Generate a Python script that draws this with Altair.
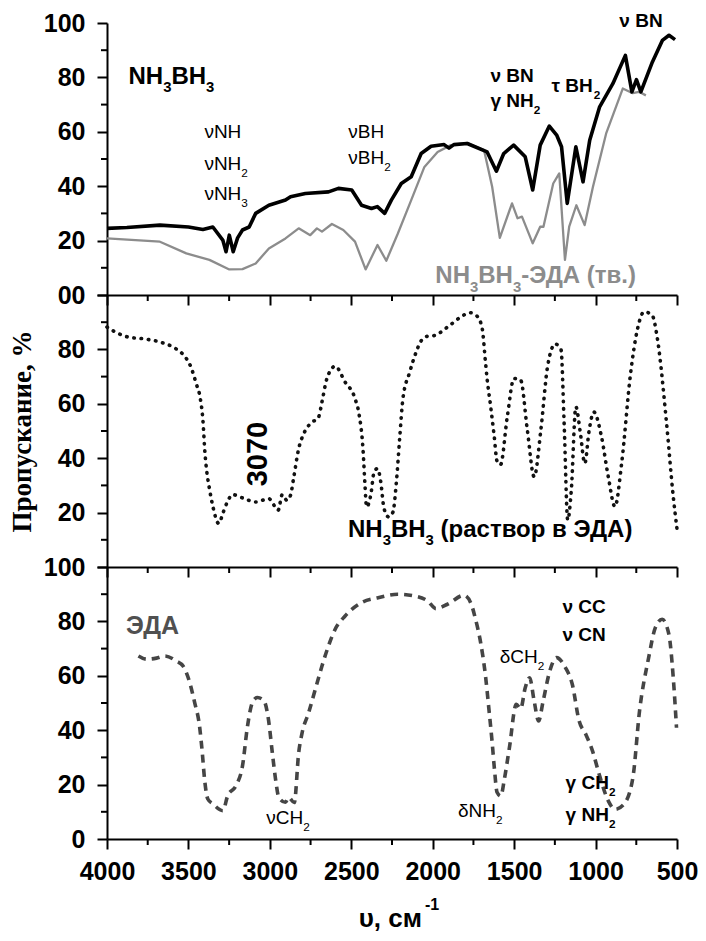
import altair as alt
import pandas as pd

# ---------------- data ----------------
top_black_cm = [4000, 3878, 3675, 3500, 3411, 3350, 3289, 3269, 3249, 3225, 3198, 3168, 3127, 3087,
                3006, 2904, 2873, 2782, 2640, 2579, 2497, 2437, 2376, 2340, 2295, 2254, 2193, 2132,
                2071, 2010, 1930, 1900, 1870, 1788, 1666, 1609, 1564, 1503, 1432, 1386, 1340, 1284,
                1239, 1209, 1174, 1121, 1077, 1036, 975, 894, 817, 777, 749, 722, 651, 590, 549, 512]
top_black_t = [24.5, 24.8, 25.7, 25.0, 24.1, 25.0, 20.2, 15.9, 22.0, 15.9, 21.0, 23.9, 25.0, 30.0,
               33.0, 34.9, 36.1, 37.3, 37.9, 39.2, 38.6, 33.0, 31.8, 32.5, 30.0, 34.9, 41.0, 43.5,
               52.0, 54.7, 55.3, 54.0, 55.3, 55.7, 52.6, 45.5, 52.0, 55.1, 50.8, 38.6, 55.1, 62.1,
               58.8, 54.5, 33.7, 54.5, 41.6, 56.9, 69.2, 77.7, 88.1, 74.7, 79.2, 74.7, 85.7, 93.6, 95.5, 93.9]

top_gray_cm = [4000, 3675, 3513, 3371, 3249, 3168, 3087, 3006, 2904, 2823, 2752, 2711, 2680, 2619,
               2549, 2477, 2412, 2339, 2285, 2214, 2132, 2051, 1970, 1889, 1788, 1685, 1635, 1588,
               1513, 1479, 1452, 1386, 1340, 1320, 1260, 1223, 1188, 1162, 1118, 1067, 1016, 935,
               833, 772, 734, 691]
top_gray_t = [20.8, 19.6, 15.3, 12.9, 9.4, 9.5, 11.6, 17.1, 20.8, 24.5, 22.0, 24.5, 23.3, 26.1,
              23.9, 19.6, 9.4, 18.4, 12.6, 22.6, 34.9, 47.1, 52.6, 55.1, 55.9, 53.3, 39.8, 21.0,
              33.7, 28.2, 28.8, 19.0, 25.1, 25.1, 41.0, 44.7, 12.9, 25.1, 33.0, 25.7, 39.8, 59.4,
              75.9, 74.2, 74.7, 73.4]

mid_cm = [4000, 3959, 3868, 3776, 3675, 3584, 3537, 3482, 3452, 3427, 3411, 3399, 3387, 3371,
          3347, 3314, 3286, 3259, 3229, 3168, 3087, 3006, 2949, 2924, 2895, 2873, 2853, 2823,
          2792, 2752, 2701, 2680, 2650, 2599, 2538, 2477, 2453, 2427, 2417, 2406, 2380, 2360,
          2339, 2319, 2299, 2270, 2244, 2223, 2203, 2183, 2142, 2102, 2081, 2041, 1990, 1909,
          1828, 1771, 1727, 1696, 1676, 1666, 1645, 1623, 1605, 1584, 1542, 1501, 1460, 1419,
          1377, 1336, 1295, 1248, 1212, 1193, 1171, 1149, 1121, 1095, 1066, 1040, 1011, 964,
          922, 881, 840, 785, 744, 702, 653, 619, 564, 523, 500]
mid_t = [88.2, 86.7, 84.5, 83.9, 82.7, 80.5, 78.4, 73.1, 67.4, 61.9, 53.9, 42.3, 34.9, 28.8,
         21.5, 16.0, 20.2, 24.2, 26.6, 25.4, 23.9, 25.1, 20.9, 26.6, 24.5, 26.4, 33.1, 43.5,
         49.0, 52.7, 55.1, 60.7, 69.2, 73.8, 68.0, 61.9, 56.4, 42.3, 31.3, 22.1, 26.6, 34.9,
         36.2, 31.3, 21.5, 18.4, 20.2, 31.3, 47.2, 61.9, 71.5, 79.0, 82.1, 84.7, 85.1, 88.2,
         91.9, 93.5, 92.2, 87.6, 75.3, 69.2, 59.4, 48.4, 38.9, 37.6, 55.3, 69.3, 68.7, 50.4,
         33.2, 50.4, 73.6, 82.0, 79.8, 52.8, 17.3, 28.3, 58.9, 50.0, 38.1, 50.0, 57.0, 48.0,
         33.2, 22.2, 38.1, 71.2, 87.1, 93.8, 92.6, 83.4, 52.8, 25.9, 14.0]

bot_cm = [3807, 3756, 3696, 3645, 3574, 3533, 3492, 3462, 3432, 3415, 3401, 3381, 3350, 3289,
          3259, 3208, 3168, 3137, 3107, 3076, 3036, 3009, 2985, 2965, 2945, 2904, 2885, 2850,
          2823, 2802, 2762, 2721, 2680, 2640, 2599, 2538, 2437, 2335, 2214, 2092, 2031, 1980,
          1909, 1808, 1767, 1737, 1706, 1676, 1655, 1635, 1621, 1605, 1582, 1560, 1529, 1487,
          1460, 1432, 1405, 1377, 1350, 1322, 1281, 1240, 1185, 1143, 1101, 1060, 1019, 978,
          922, 881, 826, 771, 730, 674, 633, 591, 550, 523, 503]
bot_t = [67.3, 66.1, 66.5, 67.3, 65.4, 63.6, 57.5, 50.2, 41.6, 31.8, 22.0, 14.7, 12.9, 10.4,
         15.9, 19.6, 26.9, 41.6, 50.2, 52.0, 50.8, 44.1, 31.8, 22.0, 15.3, 13.5, 15.3, 13.4,
         31.7, 39.0, 46.4, 55.0, 63.6, 71.0, 77.1, 82.0, 86.9, 88.7, 90.0, 89.1, 87.5, 84.7,
         86.3, 89.6, 86.9, 80.8, 72.3, 60.0, 47.8, 35.5, 25.7, 17.2, 15.8, 22.0, 33.6, 49.5,
         47.9, 55.6, 59.3, 50.7, 43.4, 50.7, 61.8, 66.7, 63.0, 56.9, 43.4, 38.5, 32.4, 23.8,
         14.0, 10.9, 12.8, 22.5, 47.1, 66.7, 77.7, 80.8, 75.3, 59.3, 40.9]

x_major = [4000, 3500, 3000, 2500, 2000, 1500, 1000, 500]
x_minor = [3750, 3250, 2750, 2250, 1750, 1250, 750]
y_major = [0, 20, 40, 60, 80, 100]
y_minor = [10, 30, 50, 70, 90]

# annotations: (text, wavenumber, transmittance); "_" marks a subscript character
top_title = [("NH_3BH_3", 3868, 77.7)]
top_thin = [("νNH", 3402, 57.9), ("νNH_2", 3402, 45.9), ("νNH_3", 3402, 34.9),
            ("νBH", 2518, 57.9), ("νBH_2", 2518, 48.1)]
top_bold = [("ν BN", 1645, 78.3), ("γ NH_2", 1645, 69.2), ("τ BH_2", 1271, 74.7), ("ν BN", 854, 98.5)]
top_gray = [("NH_3BH_3-ЭДА (тв.)", 1984, 4.3)]
mid_rot = [("3070", 3071, 41.5)]
mid_title = [("NH_3BH_3 (раствор в ЭДА)", 2520, 11.1)]
bot_title = [("ЭДА", 3883, 75.3)]
bot_thin = [("νCH_2", 3022, 5.4), ("δNH_2", 1845, 8.1), ("δCH_2", 1589, 64.8)]
bot_bold = [("ν CC", 1203, 83.2), ("ν CN", 1203, 72.8), ("γ CH_2", 1184, 18.3), ("γ NH_2", 1184, 6.6)]
x_title_main = "υ, см"
x_title_sup = "-1"
y_title = "Пропускание, %"

# ---------------- chart ----------------
W, H = 570, 272
FONT = "Liberation Sans"
xscale = alt.Scale(domain=[500, 4000], reverse=True, nice=False, zero=False)
yscale = alt.Scale(domain=[0, 100], nice=False, zero=False)

# Arial / Liberation Sans advance widths (1/1000 em) for characters preceding subscripts
ADV = {
    "normal": {"N": 722, "H": 722, "B": 667, "C": 722, " ": 278, "ν": 500, "γ": 500, "δ": 556, "τ": 416},
    "bold": {"N": 722, "H": 722, "B": 722, "C": 722, " ": 278, "ν": 556, "γ": 556, "δ": 611, "τ": 500},
}


def segments(text):
    out, buf, i = [], "", 0
    while i < len(text):
        ch = text[i]
        if ch == "_":
            if buf:
                out.append((buf, False))
            out.append((text[i + 1], True))
            buf = ""
            i += 2
            continue
        buf += ch
        i += 1
    if buf:
        out.append((buf, False))
    return out


def x_axis(labels):
    return alt.Axis(values=x_major, labels=labels, tickSize=10, labelFlush=False, labelOverlap=False,
                    labelFont=FONT, labelFontSize=25, labelFontWeight="bold", labelColor="black",
                    labelPadding=10, format="d", title=None)


def y_axis(expr=None, title=None):
    kw = dict(values=y_major, tickSize=10, labelFont=FONT, labelFontSize=25, labelFontWeight="bold",
              labelColor="black", labelPadding=12, labelFlush=False)
    if expr:
        kw["labelExpr"] = expr
    if title:
        kw.update(title=title, titleFont="Liberation Serif", titleFontSize=27, titleFontWeight="bold",
                  titleColor="black", titlePadding=21)
    else:
        kw["title"] = None
    return alt.Axis(**kw)


def line_df(cm, t):
    return pd.DataFrame({"x": cm, "y": t, "i": list(range(len(cm)))})


def rich_text(items, X, Y, size, weight, color="black"):
    layers = []
    for text, x, y in items:
        off = 0.0
        for seg, sub in segments(text):
            fs = size * 0.62 if sub else size
            lead = len(seg) - len(seg.lstrip(" "))
            off += lead * ADV[weight][" "] * fs / 1000.0
            seg = seg.lstrip(" ")
            layers.append(
                alt.Chart(pd.DataFrame({"t": [seg], "x": [x], "y": [y]})).mark_text(
                    font=FONT, fontSize=fs, fontWeight=weight, color=color, align="left",
                    baseline="alphabetic", dx=off, dy=size * 0.36 if sub else 0
                ).encode(x=X, y=Y, text="t:N")
            )
            off += sum(ADV[weight].get(c, 556) for c in seg) * fs / 1000.0
    return layers


def panel(layers_fn, xax, yax):
    X = alt.X("x:Q", scale=xscale, axis=xax)
    Y = alt.Y("y:Q", scale=yscale, axis=yax)
    layers = layers_fn(X, Y)
    ymin = alt.Chart(pd.DataFrame({"y": y_minor})).mark_rule(color="black", strokeWidth=2).encode(
        y=Y, x=alt.value(-6), x2=alt.value(0))
    xmin = alt.Chart(pd.DataFrame({"x": x_minor})).mark_rule(color="black", strokeWidth=2).encode(
        x=X, y=alt.value(H), y2=alt.value(H + 6))
    return alt.layer(*layers, ymin, xmin).properties(width=W, height=H)


def top_layers(X, Y):
    gray = alt.Chart(line_df(top_gray_cm, top_gray_t)).mark_line(
        color="#8c8c8c", strokeWidth=2.3, strokeJoin="round").encode(x=X, y=Y, order="i:Q")
    black = alt.Chart(line_df(top_black_cm, top_black_t)).mark_line(
        color="black", strokeWidth=3.6, strokeJoin="round").encode(x=X, y=Y, order="i:Q")
    return ([gray, black]
            + rich_text(top_title, X, Y, 24, "bold")
            + rich_text(top_thin, X, Y, 19, "normal")
            + rich_text(top_bold, X, Y, 19, "bold")
            + rich_text(top_gray, X, Y, 24, "bold", color="#8c8c8c"))


def mid_layers(X, Y):
    dots = alt.Chart(line_df(mid_cm, mid_t)).mark_line(
        color="#111111", strokeWidth=3.6, strokeDash=[0.5, 6.8], strokeCap="round",
        interpolate="monotone").encode(x=X, y=Y, order="i:Q")
    rot = alt.Chart(pd.DataFrame({"t": [a[0] for a in mid_rot], "x": [a[1] for a in mid_rot],
                                  "y": [a[2] for a in mid_rot]})).mark_text(
        font=FONT, fontSize=29, fontWeight="bold", color="black", align="center",
        baseline="middle", angle=270).encode(x=X, y=Y, text="t:N")
    return [dots, rot] + rich_text(mid_title, X, Y, 24, "bold")


def bot_layers(X, Y):
    dash = alt.Chart(line_df(bot_cm, bot_t)).mark_line(
        color="#454545", strokeWidth=3.6, strokeDash=[8, 6],
        interpolate="monotone").encode(x=X, y=Y, order="i:Q")
    title_main = alt.Chart(pd.DataFrame({"t": [x_title_main]})).mark_text(
        font=FONT, fontSize=26, fontWeight="bold", color="black", align="right",
        baseline="alphabetic").encode(x=alt.value(W / 2 + 30), y=alt.value(H + 88), text="t:N")
    title_sup = alt.Chart(pd.DataFrame({"t": [x_title_sup]})).mark_text(
        font=FONT, fontSize=16, fontWeight="bold", color="black", align="left",
        baseline="alphabetic").encode(x=alt.value(W / 2 + 33), y=alt.value(H + 71), text="t:N")
    return ([dash, title_main, title_sup]
            + rich_text(bot_title, X, Y, 25, "bold", color="#505050")
            + rich_text(bot_thin, X, Y, 19, "normal")
            + rich_text(bot_bold, X, Y, 19, "bold"))


top = panel(top_layers, x_axis(False), y_axis(expr="datum.value == 0 ? '00' : datum.label"))
mid = panel(mid_layers, x_axis(False),
            y_axis(expr="(datum.value == 0 || datum.value == 100) ? '' : datum.label", title=y_title))
bot = panel(bot_layers, x_axis(True), y_axis())

chart = alt.vconcat(top, mid, bot, spacing=0, bounds="flush").properties(
    padding={"left": 0, "top": 3, "right": 0, "bottom": 0}
).configure_view(stroke=None).configure_axis(
    domainColor="black", domainWidth=2, tickColor="black", tickWidth=2, grid=False
)

chart.save("out.html", embed_options={"renderer": "svg", "actions": False})
